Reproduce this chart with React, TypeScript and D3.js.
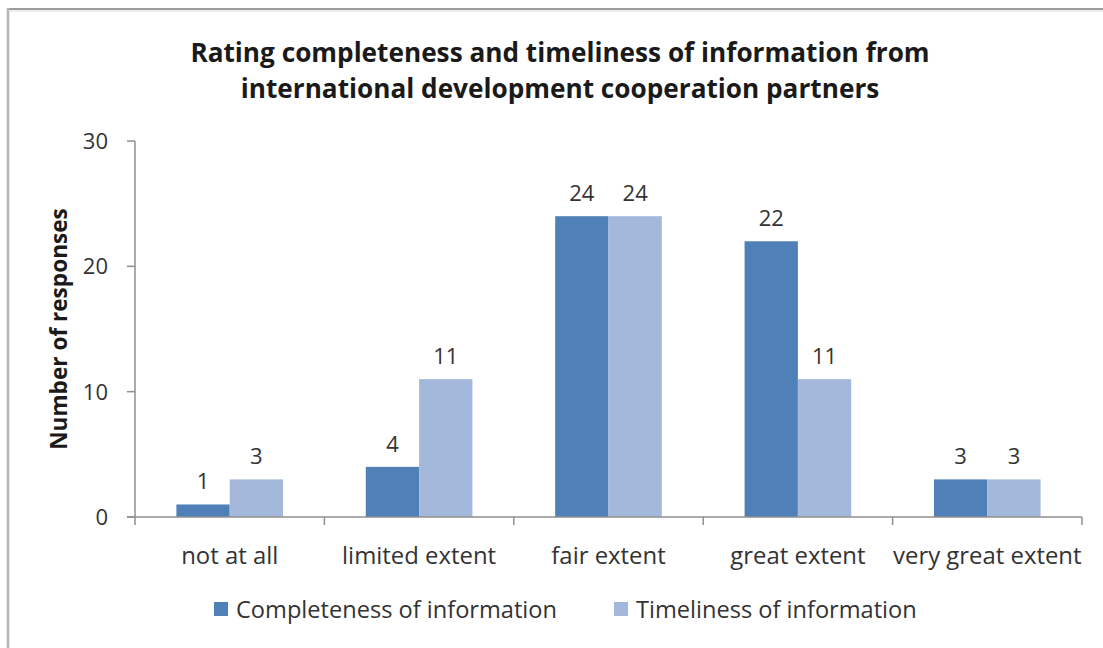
import React from "react";
import * as d3 from "d3";

const categories = ["not at all", "limited extent", "fair extent", "great extent", "very great extent"];
const seriesNames = ["Completeness of information", "Timeliness of information"];
const completeness = [1, 4, 24, 22, 3];
const timeliness = [3, 11, 24, 11, 3];
const yTicks = [0, 10, 20, 30];
const titleLines = [
  "Rating completeness and timeliness of information from",
  "international development cooperation partners",
];
const yAxisTitle = "Number of responses";
const colors = ["#4F81B8", "#A3B8DB"];

const W = 1103;
const H = 648;
const FONT = "'Open Sans', sans-serif";

export default function App() {
  const left = 135;
  const right = 1082;
  const top = 141;
  const bottom = 517;

  const x = d3.scaleBand<string>().domain(categories).range([left, right]).paddingInner(0).paddingOuter(0);
  const y = d3.scaleLinear().domain([0, 30]).range([bottom, top]);
  const groupFrac = 0.563;
  const inner = d3
    .scaleBand<number>()
    .domain([0, 1])
    .range([0, x.bandwidth() * groupFrac])
    .padding(0);
  const groupOffset = (x.bandwidth() * (1 - groupFrac)) / 2;

  const series = [completeness, timeliness];
  const axisColor = "#8f8f8f";
  const textColor = "#333333";

  return (
    <svg
      width={W}
      height={H}
      style={{ position: "absolute", left: 0, top: 0, background: "#fff" }}
      fontFamily={FONT}
    >
      {/* frame */}
      <line x1={7} y1={9} x2={W} y2={9} stroke="#9c9c9c" strokeWidth={2} />
      <line x1={8} y1={8} x2={8} y2={H} stroke="#b4b4b4" strokeWidth={2.5} />
      <line x1={10} y1={11} x2={W} y2={11} stroke="#dedede" strokeWidth={1} />

      {/* title */}
      {titleLines.map((t, i) => (
        <text
          key={i}
          x={560}
          y={62 + i * 36}
          textAnchor="middle"
          fontWeight="bold"
          fontSize={26.2}
          fill="#1a1a1a"
        >
          {t}
        </text>
      ))}

      {/* y axis title */}
      <text
        transform={`translate(67,329) rotate(-90)`}
        textAnchor="middle"
        fontWeight="bold"
        fontSize={22.6}
        fill="#1a1a1a"
      >
        {yAxisTitle}
      </text>

      {/* bars */}
      {series.map((vals, si) =>
        vals.map((v, ci) => {
          const bx = (x(categories[ci]) as number) + groupOffset + (inner(si) as number);
          return (
            <rect
              key={`${si}-${ci}`}
              x={bx}
              y={y(v)}
              width={inner.bandwidth()}
              height={y(0) - y(v)}
              fill={colors[si]}
            />
          );
        })
      )}

      {/* data labels */}
      {series.map((vals, si) =>
        vals.map((v, ci) => {
          const bx = (x(categories[ci]) as number) + groupOffset + (inner(si) as number) + inner.bandwidth() / 2;
          return (
            <text
              key={`l-${si}-${ci}`}
              x={bx}
              y={y(v) - 15}
              textAnchor="middle"
              fontSize={22}
              fill={textColor}
            >
              {v}
            </text>
          );
        })
      )}

      {/* y axis */}
      <line x1={left} y1={top} x2={left} y2={bottom} stroke={axisColor} strokeWidth={1.5} />
      {yTicks.map((t) => (
        <g key={t}>
          <line x1={left - 8} y1={y(t)} x2={left} y2={y(t)} stroke={axisColor} strokeWidth={1.5} />
          <text x={108} y={y(t)} dy="0.36em" textAnchor="end" fontSize={22} fill={textColor}>
            {t}
          </text>
        </g>
      ))}

      {/* x axis */}
      <line x1={left - 8} y1={bottom} x2={right} y2={bottom} stroke={axisColor} strokeWidth={1.5} />
      {categories.map((c, i) => (
        <line
          key={`t${i}`}
          x1={(x(c) as number) + x.bandwidth()}
          y1={bottom}
          x2={(x(c) as number) + x.bandwidth()}
          y2={bottom + 8}
          stroke={axisColor}
          strokeWidth={1.5}
        />
      ))}
      <line x1={left} y1={bottom} x2={left} y2={bottom + 8} stroke={axisColor} strokeWidth={1.5} />
      {categories.map((c) => (
        <text
          key={c}
          x={(x(c) as number) + x.bandwidth() / 2}
          y={564}
          textAnchor="middle"
          fontSize={23.9}
          fill={textColor}
        >
          {c}
        </text>
      ))}

      {/* legend */}
      {seriesNames.map((n, i) => {
        const lx = [214, 614][i];
        return (
          <g key={n}>
            <rect x={lx} y={602} width={14} height={14} fill={colors[i]} />
            <text x={lx + 22} y={618} fontSize={23.6} fill={textColor}>
              {n}
            </text>
          </g>
        );
      })}
    </svg>
  );
}
